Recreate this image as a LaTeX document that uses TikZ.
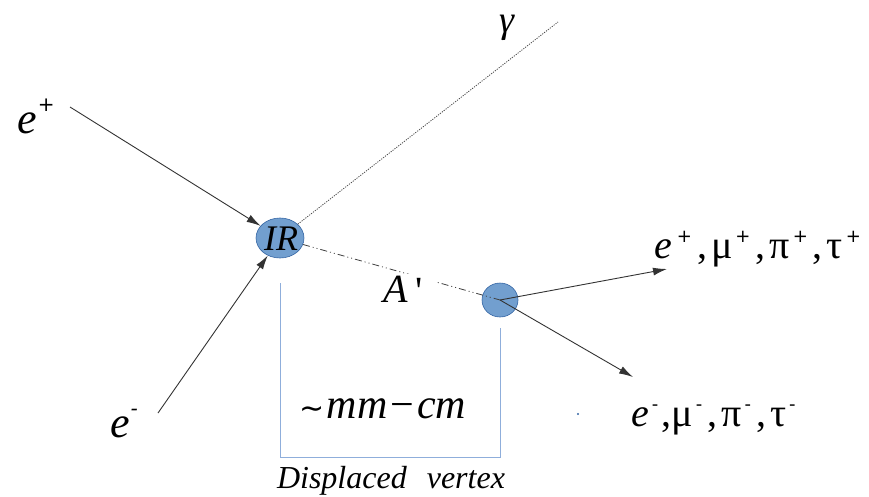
\documentclass[tikz,border=0pt]{standalone}
\usepackage{fontspec}
\setmainfont{Liberation Serif}
\newfontfamily\dvs{DejaVu Sans}
\usetikzlibrary{arrows.meta,shapes.geometric}
\definecolor{blobfill}{HTML}{729FCF}
\definecolor{blobline}{HTML}{3465A4}
\definecolor{brk}{HTML}{8FAEDB}
\tikzset{
  blob/.style={ellipse,fill=blobfill,draw=blobline,line width=0.6pt,inner sep=0pt},
  part/.style={draw=black!80,line width=0.9pt,-{Latex[length=14pt,width=8pt]}},
  lbl/.style={inner sep=0pt,anchor=base},
}
\newcommand{\supsym}[1]{\raisebox{16pt}{\dvs\fontsize{18}{18}\selectfont #1}}
\newcommand{\supbig}[1]{\raisebox{22pt}{\dvs\fontsize{20}{20}\selectfont #1}}
\begin{document}
\begin{tikzpicture}[x=1pt,y=-1pt]
\useasboundingbox (0,0) rectangle (869,496);
% vertices
\node[blob,minimum width=48pt,minimum height=40pt] (ir) at (280,238) {};
\node[inner sep=0pt] at (281,239) {\fontsize{36}{36}\selectfont\itshape IR};
\node[blob,minimum width=36pt,minimum height=34pt] (vx) at (500,300) {};
% free ends
\coordinate (eps) at (70,107);
\coordinate (ems) at (158,413);
\coordinate (gend) at (558,22);
\coordinate (t1) at (667,269);
\coordinate (t2) at (633,377);
% connectors
\draw[part] (eps) -- (ir);
\draw[part] (ems) -- (ir);
\draw[black!70,line width=0.8pt,dash pattern=on 1.2pt off 1.2pt] (ir) -- (gend);
\draw[black!75,line width=0.8pt,dash pattern=on 7pt off 3pt on 1pt off 3pt on 1pt off 3pt] (ir) -- (vx.center);
\draw[part] (vx.center) -- (t1);
\draw[part] (vx.center) -- (t2);
% bracket
\draw[brk,line width=1pt] (280,283) -- (280,457) -- (500,457) -- (500,328);
% labels
\node[lbl] (lep) at (36,133) {\fontsize{44}{44}\selectfont\itshape e\hspace{1pt}\supbig{+}};
\node[lbl] (lem) at (124,437) {\fontsize{44}{44}\selectfont\itshape e\hspace{1pt}\supbig{-}};
\node[lbl] (lg) at (507,32) {\fontsize{38}{38}\selectfont\itshape γ};
\node[lbl,fill=white,inner xsep=14pt,inner ysep=2pt] (la) at (403,302) {\fontsize{40}{40}\selectfont\itshape A\hspace{8pt}\raisebox{-2pt}{\upshape\textquotesingle}};
\node[lbl,anchor=base west] (lpos) at (654,258) {\fontsize{40}{40}\selectfont\itshape e\upshape\hspace{5pt}\supsym{+}\hspace{5pt},\hspace{4pt}μ\hspace{3pt}\supsym{+}\hspace{5pt},\hspace{4pt}π\hspace{3pt}\supsym{+}\hspace{5pt},\hspace{4pt}τ\hspace{3pt}\supsym{+}};
\node[lbl,anchor=base west] (lneg) at (631,426) {\fontsize{40}{40}\selectfont\itshape e\upshape\hspace{3pt}\supsym{-}\hspace{3pt},μ\hspace{3pt}\supsym{-}\hspace{5pt},\hspace{4pt}π\hspace{3pt}\supsym{-}\hspace{5pt},\hspace{4pt}τ\hspace{3pt}\supsym{-}};
\node[lbl] (ldist) at (383,418) {\fontsize{42}{42}\selectfont {\dvs\fontsize{30}{30}\selectfont ∼}\hspace{2pt}\itshape mm\hspace{3pt}\upshape−\hspace{3pt}\itshape cm};
\node[lbl] (ldisp) at (391,488) {\fontsize{32}{32}\selectfont\itshape Displaced\hspace{20pt}vertex};
\fill[blobline] (578,414) circle (1.2pt);
\end{tikzpicture}
\end{document}
